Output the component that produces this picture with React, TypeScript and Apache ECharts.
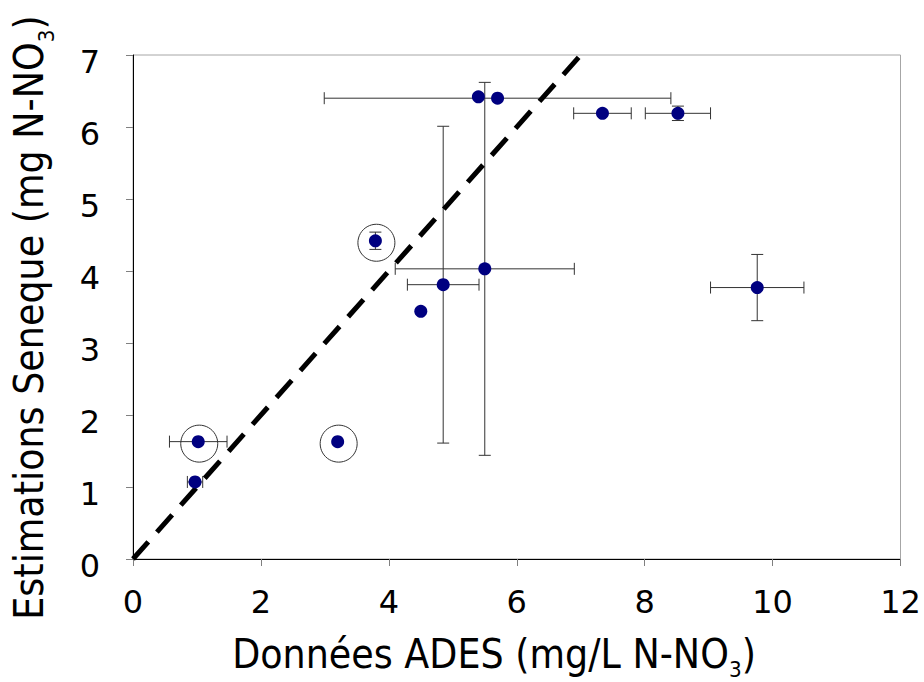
import React, { useEffect, useRef } from "react";
import * as echarts from "echarts";

// Data
const adesX = [0.97, 1.02, 3.2, 3.79, 4.5, 4.85, 5.5, 5.4, 5.7, 7.34, 8.52, 9.76];
const senequeY = [1.07, 1.63, 1.63, 4.42, 3.44, 3.81, 4.03, 6.42, 6.4, 6.19, 6.19, 3.77];
const xErr = [0.12, 0.45, 0, 0, 0, 0.56, 1.4, 0, 2.71, 0.45, 0.51, 0.73];
const yErr = [0, 0, 0, 0.12, 0, 2.2, 2.59, 0, 0, 0, 0.1, 0.46];
const circledIdx = [1, 2, 3];
const lineX = [0, 7];
const lineY = [0, 7];
const xAxisMin = 0, xAxisMax = 12, xAxisStep = 2;
const yAxisMin = 0, yAxisMax = 7, yAxisStep = 1;
const xTitle = ["Données ADES (mg/L N-NO", "3", ")"];
const yTitle = ["Estimations Seneque (mg N-NO", "3", ")"];

const FONT = "DejaVu Sans";

export default function App() {
  const ref = useRef<HTMLDivElement>(null);
  useEffect(() => {
    if (!ref.current) return;
    const chart = echarts.init(ref.current, null, { renderer: "svg" });
    const pts = adesX.map((x, i) => [x, senequeY[i]]);
    const errData = adesX.map((x, i) => [x, senequeY[i], xErr[i], yErr[i]]);
    const circ = circledIdx.map((i) => [adesX[i], senequeY[i]]);
    const richX = {
      a: { fontSize: 36.5, fontFamily: FONT, lineHeight: 36, verticalAlign: "top", fill: "#000", color: "#000" },
      s: { fontSize: 20, fontFamily: FONT, lineHeight: 16, padding: [22, 0, 0, 0], verticalAlign: "top", fill: "#000", color: "#000" },
    };
    const richY = {
      a: { fontSize: 36.5, fontFamily: FONT, lineHeight: 36, verticalAlign: "top", fill: "#000", color: "#000" },
      s: { fontSize: 20, fontFamily: FONT, lineHeight: 16, padding: [24, 0, 0, 0], verticalAlign: "top", fill: "#000", color: "#000" },
    };
    const mk = (t: string[]) => `{a|${t[0]}}{s|${t[1]}}{a|${t[2]}}`;
    chart.setOption({
      animation: false,
      backgroundColor: "#fff",
      grid: {
        left: 133,
        right: 23.5,
        top: 55,
        bottom: 123,
        show: true,
        borderColor: "#a6a6a6",
        borderWidth: 1,
        containLabel: false,
      },
      xAxis: {
        type: "value",
        min: xAxisMin,
        max: xAxisMax,
        interval: xAxisStep,
        splitLine: { show: false },
        axisLine: { show: true, onZero: false, lineStyle: { color: "#000", width: 1 } },
        axisTick: { show: true, length: 7, lineStyle: { color: "#808080" } },
        axisLabel: { fontSize: 32, fontFamily: FONT, color: "#000", margin: 27 },
      },
      yAxis: {
        type: "value",
        min: yAxisMin,
        max: yAxisMax,
        interval: yAxisStep,
        splitLine: { show: false },
        axisLine: { show: true, onZero: false, lineStyle: { color: "#000", width: 1 } },
        axisTick: { show: true, length: 7, lineStyle: { color: "#808080" } },
        axisLabel: { fontSize: 32, fontFamily: FONT, color: "#000", margin: 33, verticalAlign: "top", lineHeight: 14 },
      },
      graphic: [
        {
          type: "text",
          x: 494,
          y: 634,
          scaleY: 1.1,
          style: { text: mk(xTitle), rich: richX, align: "center", verticalAlign: "top", textAlign: "center", textVerticalAlign: "top" },
        },
        {
          type: "text",
          x: 8.4,
          y: 317.5,
          rotation: Math.PI / 2,
          scaleY: 1.1,
          style: { text: mk(yTitle), rich: richY, align: "center", verticalAlign: "top", textAlign: "center", textVerticalAlign: "top" },
        },
      ],
      series: [
        {
          type: "custom",
          z: 2,
          clip: false,
          encode: { x: 0, y: 1 },
          data: errData,
          renderItem: (params: any, api: any) => {
            const x = api.value(0), y = api.value(1), ex = api.value(2), ey = api.value(3);
            const style = { stroke: "#333", lineWidth: 1 };
            const cap = 6;
            const children: any[] = [];
            if (ex > 0) {
              const l = api.coord([x - ex, y]);
              const r = api.coord([x + ex, y]);
              children.push({ type: "line", shape: { x1: l[0], y1: l[1], x2: r[0], y2: r[1] }, style });
              children.push({ type: "line", shape: { x1: l[0], y1: l[1] - cap, x2: l[0], y2: l[1] + cap }, style });
              children.push({ type: "line", shape: { x1: r[0], y1: r[1] - cap, x2: r[0], y2: r[1] + cap }, style });
            }
            if (ey > 0) {
              const t = api.coord([x, y + ey]);
              const b = api.coord([x, y - ey]);
              children.push({ type: "line", shape: { x1: t[0], y1: t[1], x2: b[0], y2: b[1] }, style });
              children.push({ type: "line", shape: { x1: t[0] - cap, y1: t[1], x2: t[0] + cap, y2: t[1] }, style });
              children.push({ type: "line", shape: { x1: b[0] - cap, y1: b[1], x2: b[0] + cap, y2: b[1] }, style });
            }
            return { type: "group", children };
          },
        },
        {
          type: "line",
          z: 3,
          data: lineX.map((x, i) => [x, lineY[i]]),
          showSymbol: false,
          symbol: "none",
          lineStyle: { color: "#000", width: 5, type: [23, 13], opacity: 1 },
        },
        {
          type: "scatter",
          z: 4,
          data: circ,
          symbol: "circle",
          symbolSize: 37,
          symbolOffset: [1, 2],
          itemStyle: { color: "rgba(0,0,0,0)", borderColor: "#333", borderWidth: 1, opacity: 1 },
        },
        {
          type: "scatter",
          z: 5,
          data: pts,
          symbol: "circle",
          symbolSize: 13,
          itemStyle: { color: "#000080", opacity: 1 },
        },
      ],
    });
    return () => chart.dispose();
  }, []);
  return <div ref={ref} style={{ position: "fixed", left: 0, top: 0, width: 924, height: 682 }} />;
}
